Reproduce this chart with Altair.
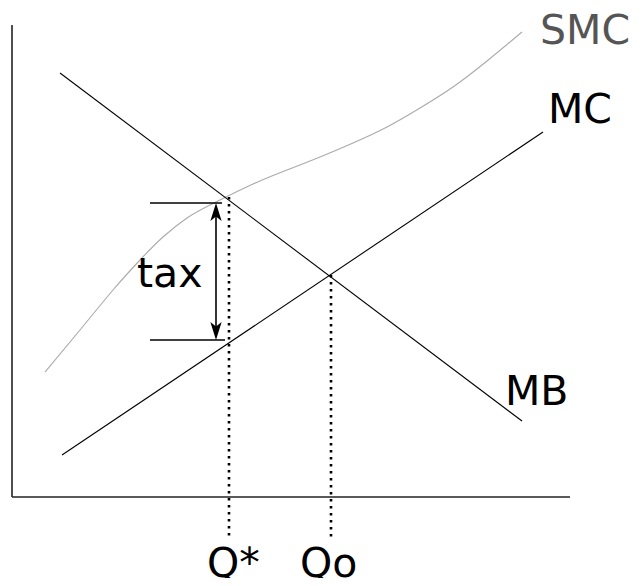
import altair as alt
import pandas as pd

# Coordinate system: quantity (x) and price (y), origin at the axes corner
# Straight curves given by their end points
line_names = ["MB", "MC"]
line_x1 = [48, 50]
line_y1 = [424, 42]
line_x2 = [510, 531]
line_y2 = [76, 365]

# Social marginal cost curve (S-shaped)
smc_x = [33, 68, 101, 128, 151, 175, 198, 241, 275, 308, 341, 375, 408, 441, 475, 510]
smc_y = [125, 167, 207, 237, 260, 279, 292, 313, 327, 340, 354, 370, 389, 410, 436, 465]

# Axes
axis_x1 = [0, 0]
axis_y1 = [0, 0]
axis_x2 = [0, 558]
axis_y2 = [472, 0]

# Tax bracket
tax_x = 204
tax_top = 294
tax_bottom = 157
tick_x1 = [138, 138]
tick_x2 = [210, 213]
tick_y = [294, 157]

# Dotted guides (Q*, Qo)
q_names = ["Q*", "Qo"]
q_x = [217, 319]
q_top = [300, 222]
q_bottom = [-40, -43]

# Labels
label_text = ["SMC", "MC", "MB", "tax", "Q*", "Qo"]
label_x = [528, 536, 493, 125, 195, 288]
label_y = [453, 374, 92, 210, -80, -80]
label_color = ["#555555", "#000000", "#000000", "#000000", "#000000", "#000000"]

X = alt.Scale(domain=[-4, 621], nice=False, zero=False)
Y = alt.Scale(domain=[-81, 489], nice=False, zero=False)

def xe(f):
    return alt.X(f, type="quantitative", scale=X, axis=None)

def ye(f):
    return alt.Y(f, type="quantitative", scale=Y, axis=None)

axes_df = pd.DataFrame({"x": axis_x1, "y": axis_y1, "x2": axis_x2, "y2": axis_y2})
axes = alt.Chart(axes_df).mark_rule(color="#222222", strokeWidth=1.6).encode(
    x=xe("x"), y=ye("y"), x2="x2", y2="y2")

lines_df = pd.DataFrame({"name": line_names, "x": line_x1, "y": line_y1, "x2": line_x2, "y2": line_y2})
lines = alt.Chart(lines_df).mark_rule(color="#000000", strokeWidth=1.1).encode(
    x=xe("x"), y=ye("y"), x2="x2", y2="y2")

smc_df = pd.DataFrame({"x": smc_x, "y": smc_y, "o": list(range(len(smc_x)))})
smc = alt.Chart(smc_df).mark_line(color="#aaaaaa", strokeWidth=1.1, interpolate="natural").encode(
    x=xe("x"), y=ye("y"), order="o:Q")

ticks_df = pd.DataFrame({"x": tick_x1, "x2": tick_x2, "y": tick_y})
ticks = alt.Chart(ticks_df).mark_rule(color="#000000", strokeWidth=1.6).encode(
    x=xe("x"), x2="x2", y=ye("y"))

arrow_df = pd.DataFrame({"x": [tax_x], "y": [tax_bottom + 8], "y2": [tax_top - 8]})
arrow = alt.Chart(arrow_df).mark_rule(color="#000000", strokeWidth=1.6).encode(
    x=xe("x"), y=ye("y"), y2="y2")

heads_df = pd.DataFrame({"x": [tax_x, tax_x], "y": [tax_top - 9, tax_bottom + 9],
                         "shape": ["M0,-1L0.62,1L0,0.5L-0.62,1Z", "M0,1L0.62,-1L0,-0.5L-0.62,-1Z"]})
heads = alt.Chart(heads_df).mark_point(filled=True, color="#000000", opacity=1, size=330, strokeWidth=0).encode(
    x=xe("x"), y=ye("y"), shape=alt.Shape("shape:N", scale=None, legend=None))

dots_df = pd.DataFrame({"name": q_names, "x": q_x, "y": q_top, "y2": q_bottom})
dots = alt.Chart(dots_df).mark_rule(color="#000000", strokeWidth=2.6, strokeDash=[2.6, 4.4]).encode(
    x=xe("x"), y=ye("y"), y2="y2")

labels_df = pd.DataFrame({"t": label_text, "x": label_x, "y": label_y, "c": label_color})
labels = alt.Chart(labels_df).mark_text(font="DejaVu Sans", fontSize=41, align="left",
                                        baseline="alphabetic").encode(
    x=xe("x"), y=ye("y"), text="t", color=alt.Color("c:N", scale=None, legend=None))

chart = alt.layer(axes, smc, lines, ticks, arrow, heads, dots, labels).properties(
    width=625, height=570, autosize=alt.AutoSizeParams(type="none"), padding=0
).configure_view(stroke=None)

chart.save("out.html", embed_options={"renderer": "svg", "actions": False})
